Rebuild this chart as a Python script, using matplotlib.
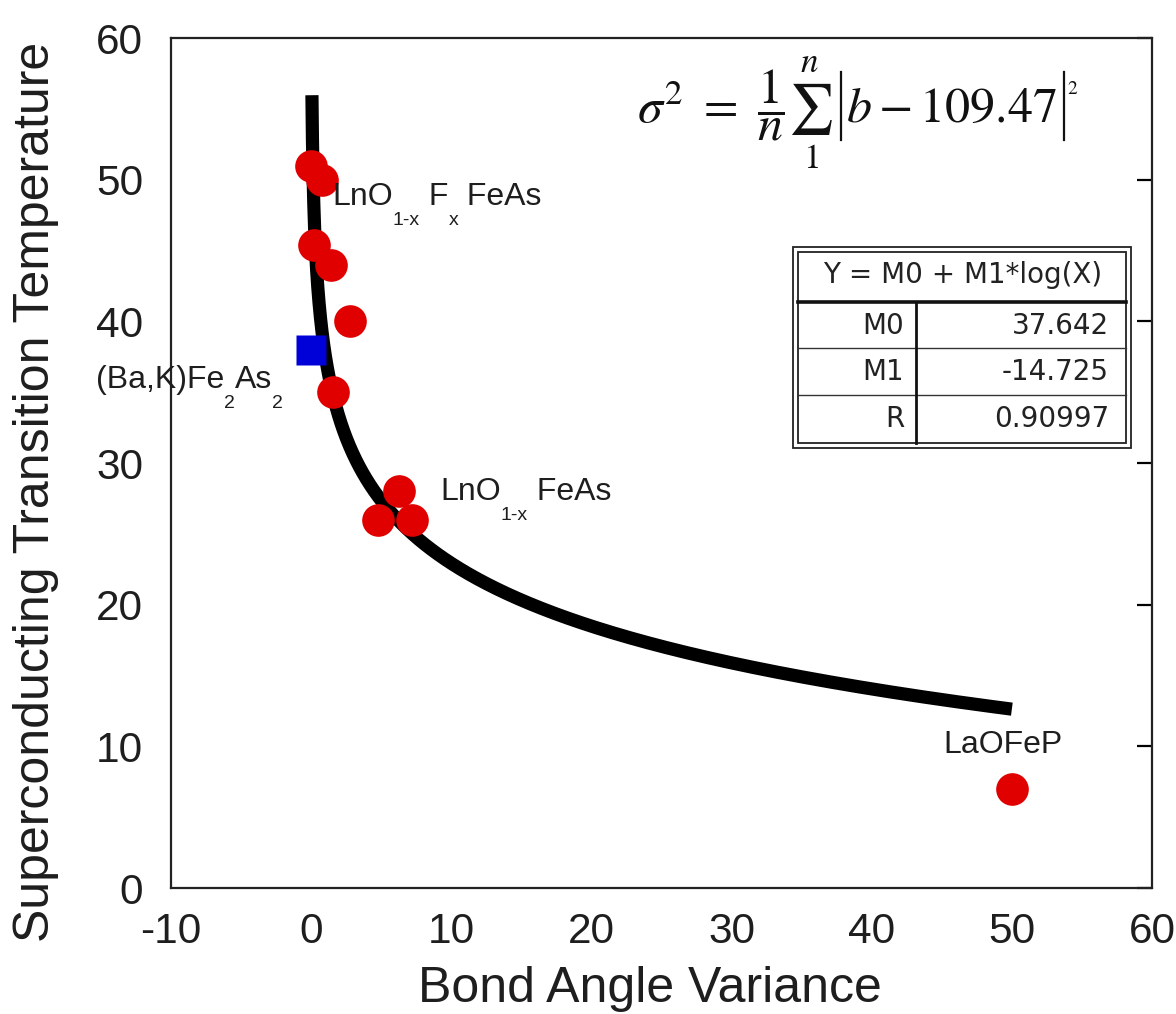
import numpy as np
import matplotlib
matplotlib.use("Agg")
import matplotlib.pyplot as plt
from matplotlib.patches import Rectangle
from matplotlib.lines import Line2D

# ---------------- data ----------------
fit_M0 = 37.642
fit_M1 = -14.725
fit_R = 0.90997
table_header = "Y = M0 + M1*log(X)"
table_rows = ["M0", "M1", "R"]
table_values = ["37.642", "-14.725", "0.90997"]

red_x = [0.0, 0.8, 0.2, 1.4, 2.8, 1.55, 6.3, 4.8, 7.2, 50.0]
red_y = [51.0, 50.0, 45.4, 44.0, 40.0, 35.0, 28.0, 26.0, 26.0, 7.0]
blue_x = [0.0]
blue_y = [38.0]

fit_x_range = [0.057, 50.0]

x_ticks = [-10, 0, 10, 20, 30, 40, 50, 60]
y_ticks = [0, 10, 20, 30, 40, 50, 60]

# ---------------- figure ----------------
W, H = 1176, 1014
DPI = 100
plt.rcParams["mathtext.fontset"] = "stix"
fig = plt.figure(figsize=(W / DPI, H / DPI), dpi=DPI)
L, R, T, B = 171, 1152, 38, 888
ax = fig.add_axes([L / W, 1 - B / H, (R - L) / W, (B - T) / H])

SANS = "Liberation Sans"
txtcol = "#1e1e1e"

fx = np.geomspace(fit_x_range[0], fit_x_range[1], 500)
fy = fit_M0 + fit_M1 * np.log10(fx)
ax.plot(fx, fy, color="black", lw=9.5, solid_capstyle="butt", zorder=2)

ax.plot(red_x, red_y, "o", ms=23.5, color="#e00000", mec="none", zorder=3)
ax.plot(blue_x, blue_y, "s", ms=21, color="#0000d8", mec="none", zorder=3)

ax.set_xlim(-10, 60)
ax.set_ylim(0, 60)
ax.set_xticks(x_ticks)
ax.set_yticks(y_ticks)
ax.set_xticklabels([str(v) for v in x_ticks], fontfamily=SANS, fontsize=30.5, color=txtcol)
ax.set_yticklabels([str(v) for v in y_ticks], fontfamily=SANS, fontsize=30.5, color=txtcol)
ax.tick_params(axis="x", length=0, pad=17)
ax.tick_params(axis="y", left=False, right=True, direction="in", length=11,
               width=1.6, pad=20)
for s in ax.spines.values():
    s.set_linewidth(1.6)
    s.set_color("#222222")

fig.text(650 / W, 1 - 1002 / H, "Bond Angle Variance", fontfamily=SANS,
         fontsize=36, color=txtcol, ha="center", va="baseline")
fig.text(36 / W, 1 - 492 / H, "Superconducting Transition Temperature",
         fontfamily=SANS, fontsize=36, color=txtcol, ha="center", va="center",
         rotation=90)

# ---------------- rich labels with subscripts ----------------
renderer = fig.canvas.get_renderer()


def rich(x, y, parts, size=23, subsize=14, drop=14.5):
    off = 0.0
    for s, sub in parts:
        t = ax.annotate(s, xy=(x, y), xycoords="data",
                        xytext=(off, -drop if sub else 0),
                        textcoords="offset points",
                        fontfamily=SANS, fontsize=subsize if sub else size,
                        color=txtcol, ha="left", va="baseline",
                        annotation_clip=False, zorder=4)
        bb = t.get_window_extent(renderer)
        off += bb.width * 72 / DPI


rich(1.5, 48.2, [("LnO", False), ("1-x", True), (" F", False), ("x", True), (" FeAs", False)])
rich(-15.35, 35.3, [("(Ba,K)Fe", False), ("2", True), ("As", False), ("2", True)])
rich(9.2, 27.4, [("LnO", False), ("1-x", True), (" FeAs", False)])
rich(45.1, 9.5, [("LaOFeP", False)])

# ---------------- formula (pieces, with tall absolute-value bars) ----------------
fcol = "#111111"
base_px = 122


def fpx(x, y):
    return x / W, 1 - y / H


tA = fig.text(*fpx(637, base_px), r"$\sigma^2\ =\ \dfrac{1}{n}\sum_1^n$",
              fontsize=36, color=fcol, ha="left", va="baseline")
xa = tA.get_window_extent(renderer).x1
bar1 = xa + 8
tB = fig.text(*fpx(bar1 + 5, base_px), r"$b - 109.47$",
              fontsize=36, color=fcol, ha="left", va="baseline")
xb = tB.get_window_extent(renderer).x1
bar2 = xb + 7
for bx in (bar1, bar2):
    fig.add_artist(Line2D([bx / W, bx / W], [1 - 72 / H, 1 - 140 / H],
                          transform=fig.transFigure, color=fcol, lw=1.6))
fig.text(*fpx(bar2 + 3, 94), "2", fontfamily="STIXGeneral", fontsize=14,
         color=fcol, ha="left", va="baseline")

# ---------------- fit table ----------------
tx0, tx1, ty0, ty1 = 793, 1131, 247, 448
tax = fig.add_axes([tx0 / W, 1 - ty1 / H, (tx1 - tx0) / W, (ty1 - ty0) / H])
tax.set_xlim(tx0, tx1)
tax.set_ylim(ty1, ty0)
tax.axis("off")
tax.add_patch(Rectangle((tx0, ty0), tx1 - tx0, ty1 - ty0, facecolor="white",
                        edgecolor="#222222", lw=1.3, clip_on=False))
tax.add_patch(Rectangle((tx0 + 5, ty0 + 5), tx1 - tx0 - 10, ty1 - ty0 - 10,
                        facecolor="none", edgecolor="#222222", lw=1.3))
tax.plot([798, 1126], [302, 302], color="#111111", lw=2.6)
for yy in [348, 395]:
    tax.plot([798, 1126], [yy, yy], color="#333333", lw=1.0)
tax.plot([916, 916], [302, 443], color="#111111", lw=2.0)
TF = 20
tax.text(963, 275, table_header, fontfamily="DejaVu Sans", fontsize=TF,
         ha="center", va="center", color="#222222")
row_y = [326, 372, 419]
for lab, val, yy in zip(table_rows, table_values, row_y):
    tax.text(904, yy, lab, fontfamily="DejaVu Sans", fontsize=TF,
             ha="right", va="center", color="#222222")
    tax.text(1109, yy, val, fontfamily="DejaVu Sans", fontsize=TF,
             ha="right", va="center", color="#222222")

fig.savefig("out.png", dpi=DPI, facecolor="white")
